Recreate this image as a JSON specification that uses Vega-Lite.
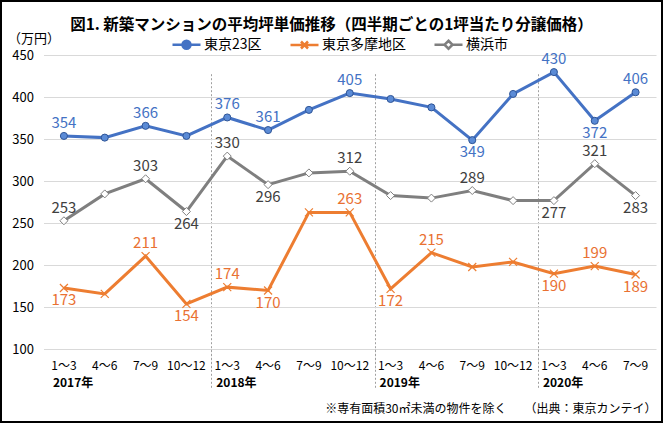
{
  "$schema": "https://vega.github.io/schema/vega-lite/v6.json",
  "width": 663,
  "height": 423,
  "autosize": "none",
  "padding": 0,
  "background": "#ffffff",
  "config": {
    "font": "Noto Sans CJK JP",
    "view": {"stroke": "#000000", "strokeWidth": 4}
  },
  "title": {
    "text": "図1. 新築マンションの平均坪単価推移（四半期ごとの1坪当たり分譲価格）",
    "fontSize": 15.5,
    "fontWeight": "bold",
    "color": "#000000",
    "anchor": "middle",
    "offset": -40,
    "baseline": "middle"
  },
  "data": {
    "values": [
      {"series": "東京23区", "period": "2017|1～3", "value": 354},
      {"series": "東京23区", "period": "2017|4～6", "value": 352},
      {"series": "東京23区", "period": "2017|7～9", "value": 366},
      {"series": "東京23区", "period": "2017|10～12", "value": 354},
      {"series": "東京23区", "period": "2018|1～3", "value": 376},
      {"series": "東京23区", "period": "2018|4～6", "value": 361},
      {"series": "東京23区", "period": "2018|7～9", "value": 385},
      {"series": "東京23区", "period": "2018|10～12", "value": 405},
      {"series": "東京23区", "period": "2019|1～3", "value": 398},
      {"series": "東京23区", "period": "2019|4～6", "value": 388},
      {"series": "東京23区", "period": "2019|7～9", "value": 349},
      {"series": "東京23区", "period": "2019|10～12", "value": 404},
      {"series": "東京23区", "period": "2020|1～3", "value": 430},
      {"series": "東京23区", "period": "2020|4～6", "value": 372},
      {"series": "東京23区", "period": "2020|7～9", "value": 406},
      {"series": "東京多摩地区", "period": "2017|1～3", "value": 173},
      {"series": "東京多摩地区", "period": "2017|4～6", "value": 166},
      {"series": "東京多摩地区", "period": "2017|7～9", "value": 211},
      {"series": "東京多摩地区", "period": "2017|10～12", "value": 154},
      {"series": "東京多摩地区", "period": "2018|1～3", "value": 174},
      {"series": "東京多摩地区", "period": "2018|4～6", "value": 170},
      {"series": "東京多摩地区", "period": "2018|7～9", "value": 263},
      {"series": "東京多摩地区", "period": "2018|10～12", "value": 263},
      {"series": "東京多摩地区", "period": "2019|1～3", "value": 172},
      {"series": "東京多摩地区", "period": "2019|4～6", "value": 215},
      {"series": "東京多摩地区", "period": "2019|7～9", "value": 198},
      {"series": "東京多摩地区", "period": "2019|10～12", "value": 204},
      {"series": "東京多摩地区", "period": "2020|1～3", "value": 190},
      {"series": "東京多摩地区", "period": "2020|4～6", "value": 199},
      {"series": "東京多摩地区", "period": "2020|7～9", "value": 189},
      {"series": "横浜市", "period": "2017|1～3", "value": 253},
      {"series": "横浜市", "period": "2017|4～6", "value": 285},
      {"series": "横浜市", "period": "2017|7～9", "value": 303},
      {"series": "横浜市", "period": "2017|10～12", "value": 264},
      {"series": "横浜市", "period": "2018|1～3", "value": 330},
      {"series": "横浜市", "period": "2018|4～6", "value": 296},
      {"series": "横浜市", "period": "2018|7～9", "value": 310},
      {"series": "横浜市", "period": "2018|10～12", "value": 312},
      {"series": "横浜市", "period": "2019|1～3", "value": 283},
      {"series": "横浜市", "period": "2019|4～6", "value": 280},
      {"series": "横浜市", "period": "2019|7～9", "value": 289},
      {"series": "横浜市", "period": "2019|10～12", "value": 277},
      {"series": "横浜市", "period": "2020|1～3", "value": 277},
      {"series": "横浜市", "period": "2020|4～6", "value": 321},
      {"series": "横浜市", "period": "2020|7～9", "value": 283}
    ]
  },
  "encoding": {
    "x": {
      "field": "period", "type": "ordinal", "sort": null,
      "scale": {"type": "band", "paddingInner": 0, "paddingOuter": 0, "range": [43.5, 656]},
      "axis": null
    },
    "y": {
      "field": "value", "type": "quantitative",
      "scale": {"domain": [100, 450], "range": [349.3, 55.3], "nice": false, "zero": false},
      "axis": {
        "values": [100, 150, 200, 250, 300, 350, 400, 450],
        "offset": -43.5,
        "domain": false,
        "ticks": false,
        "grid": true,
        "gridColor": "#D9D9D9",
        "gridWidth": 1,
        "labelFontSize": 13,
        "labelColor": "#000000",
        "labelPadding": 10,
        "title": "（万円）",
        "titleAngle": 0,
        "titleAlign": "left",
        "titleBaseline": "middle",
        "titleX": -36,
        "titleY": 38,
        "titleFontSize": 13,
        "titleFontWeight": "normal",
        "titleColor": "#000000"
      }
    }
  },
  "layer": [
    {
      "mark": {"type": "line", "strokeWidth": 3},
      "encoding": {
        "x": {
          "field": "period", "type": "ordinal", "sort": null,
          "axis": {
            "orient": "bottom",
            "offset": -73.7,
            "title": null,
            "domain": false,
            "ticks": false,
            "grid": false,
            "labelExpr": "split(datum.value, '|')[1]",
            "labelAngle": 0,
            "labelFontSize": 12,
            "labelColor": "#000000",
            "labelPadding": 11,
            "labelBaseline": "top"
          }
        },
        "color": {
          "field": "series", "type": "nominal",
          "scale": {"domain": ["東京23区", "東京多摩地区", "横浜市"], "range": ["#4472C4", "#ED7D31", "#7F7F7F"]},
          "legend": {
            "orient": "none",
            "legendX": 175,
            "legendY": 33,
            "direction": "horizontal",
            "columns": 3,
            "title": null,
            "symbolSize": 400,
            "labelOffset": 6,
            "columnPadding": 23,
            "labelFontSize": 14,
            "labelColor": "#000000",
            "padding": 0,
            "encode": {
              "symbols": {
                "update": {
                  "shape": {"signal": "datum.value === '東京23区' ? 'M-1.4,0H1.4M0.4,0A0.4,0.4,0,1,1,-0.4,0A0.4,0.4,0,1,1,0.4,0Z' : datum.value === '東京多摩地区' ? 'M-1.4,0H1.4M-0.35,-0.35L0.35,0.35M-0.35,0.35L0.35,-0.35' : 'M-1.4,0H-0.4M0.4,0H1.4M0,-0.4L0.4,0L0,0.4L-0.4,0Z'"},
                  "fill": {"signal": "datum.value === '東京23区' ? '#4472C4' : datum.value === '横浜市' ? '#ffffff' : 'transparent'"},
                  "strokeWidth": {"value": 2.5}
                }
              }
            }
          }
        }
      }
    },
    {
      "transform": [{"filter": "datum.series === '東京23区'"}],
      "mark": {"type": "point", "shape": "circle", "size": 50, "fill": "#5B8BD6", "stroke": "#2F5597", "strokeWidth": 1, "opacity": 1},
      "encoding": {
        "x": {
          "field": "period", "type": "ordinal", "sort": null,
          "axis": {
            "orient": "bottom",
            "offset": -73.7,
            "domain": false,
            "ticks": true,
            "bandPosition": 0.12,
            "tickSize": 40,
            "tickColor": "#A0A0A0",
            "tickDash": [2, 2],
            "tickWidth": 1,
            "tickOpacity": {"condition": {"test": "split(datum.value, '|')[1] === '1～3' && datum.value !== '2017|1～3'", "value": 1}, "value": 0},
            "grid": true,
            "gridColor": "#A0A0A0",
            "gridDash": [2, 2],
            "gridWidth": 1,
            "gridOpacity": {"condition": {"test": "split(datum.value, '|')[1] === '1～3' && datum.value !== '2017|1～3'", "value": 1}, "value": 0},
            "labelExpr": "split(datum.value, '|')[1] === '1～3' ? split(datum.value, '|')[0] + '年' : ''",
            "labelAlign": "left",
            "labelOffset": -11,
            "labelPadding": -12,
            "labelBaseline": "top",
            "labelAngle": 0,
            "labelFontSize": 12,
            "labelFontWeight": "bold",
            "labelColor": "#000000",
            "title": "※専有面積30㎡未満の物件を除く　　（出典：東京カンテイ）",
            "titleAnchor": "end",
            "titleFontSize": 12,
            "titleFontWeight": "normal",
            "titleColor": "#000000",
            "titleY": 58.7,
            "titleBaseline": "middle"
          }
        }
      }
    },
    {
      "transform": [{"filter": "datum.series === '東京多摩地区'"}],
      "mark": {"type": "point", "shape": "M-1,-1L1,1M-1,1L1,-1", "size": 64, "fill": "transparent", "stroke": "#ED7D31", "strokeWidth": 1.2, "opacity": 1}
    },
    {
      "transform": [{"filter": "datum.series === '横浜市'"}],
      "mark": {"type": "point", "shape": "diamond", "size": 64, "fill": "#ffffff", "stroke": "#7F7F7F", "strokeWidth": 1, "opacity": 1}
    },
    {
      "transform": [{"filter": "indexof(['東京23区|2017|1～3','東京23区|2017|7～9','東京23区|2018|1～3','東京23区|2018|4～6','東京23区|2018|10～12','東京23区|2020|1～3','東京23区|2020|7～9','東京多摩地区|2017|7～9','東京多摩地区|2018|1～3','東京多摩地区|2018|10～12','東京多摩地区|2019|4～6','東京多摩地区|2020|4～6','横浜市|2017|1～3','横浜市|2017|7～9','横浜市|2018|1～3','横浜市|2018|10～12','横浜市|2019|7～9','横浜市|2020|4～6'], datum.series + '|' + datum.period) >= 0"}],
      "mark": {"type": "text", "fontSize": 15, "baseline": "alphabetic", "dy": -8},
      "encoding": {
        "text": {"field": "value", "type": "quantitative", "format": "d"},
        "color": {"condition": [{"test": "datum.series === '東京23区'", "value": "#4472C4"}, {"test": "datum.series === '東京多摩地区'", "value": "#E97132"}], "value": "#404040"}
      }
    },
    {
      "transform": [{"filter": "indexof(['東京23区|2019|7～9','東京23区|2020|4～6','東京多摩地区|2017|1～3','東京多摩地区|2017|10～12','東京多摩地区|2018|4～6','東京多摩地区|2019|1～3','東京多摩地区|2020|1～3','東京多摩地区|2020|7～9','横浜市|2017|10～12','横浜市|2018|4～6','横浜市|2020|1～3','横浜市|2020|7～9'], datum.series + '|' + datum.period) >= 0"}],
      "mark": {"type": "text", "fontSize": 15, "baseline": "alphabetic", "dy": 17},
      "encoding": {
        "text": {"field": "value", "type": "quantitative", "format": "d"},
        "color": {"condition": [{"test": "datum.series === '東京23区'", "value": "#4472C4"}, {"test": "datum.series === '東京多摩地区'", "value": "#E97132"}], "value": "#404040"}
      }
    }
  ],
  "resolve": {"axis": {"x": "independent"}}
}
